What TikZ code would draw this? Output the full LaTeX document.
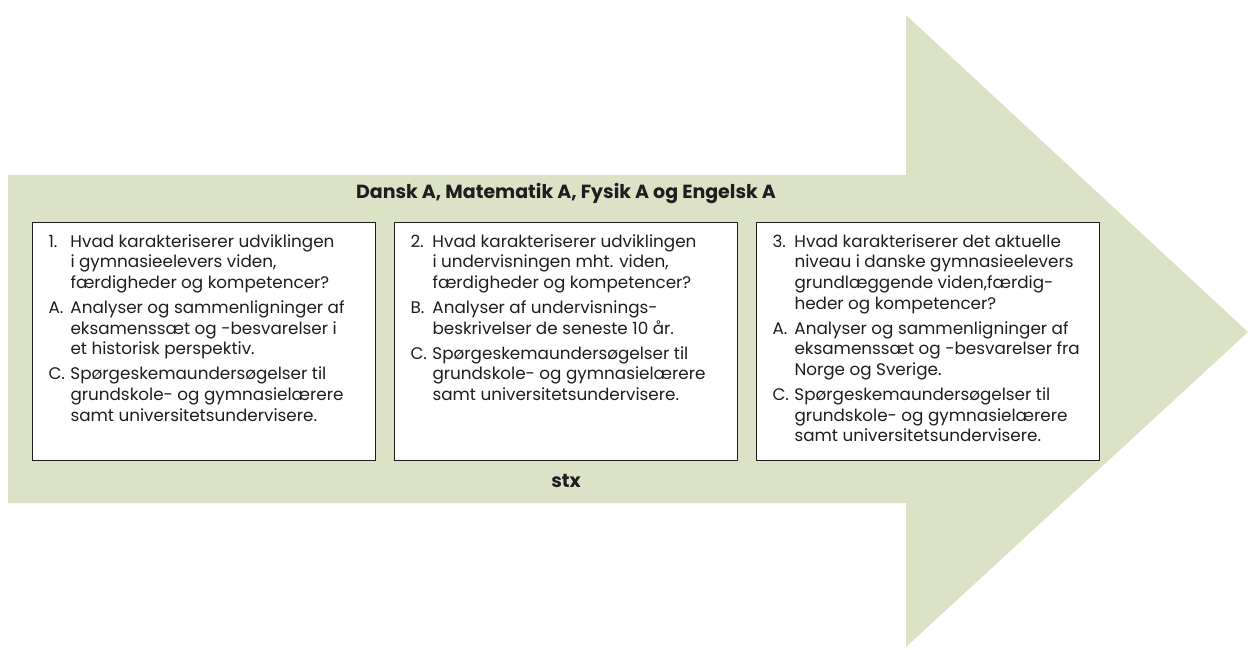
\documentclass[tikz,border=0pt]{standalone}
\usepackage{fontspec}
\setmainfont{Poppins}
\usepackage{xcolor}
\usetikzlibrary{positioning}
\definecolor{arrowfill}{HTML}{DCE2C6}
\definecolor{ink}{HTML}{1E1E1E}

% one numbered/lettered line with hanging indent
\newcommand{\qitem}[2]{\par\hangindent=22pt\hangafter=1\noindent\makebox[22pt][l]{#1}#2\par}
\newcommand{\boxtext}[1]{\begin{minipage}[t][214pt][t]{311pt}\setlength{\parskip}{4.5pt}#1\end{minipage}}

\begin{document}
\begin{tikzpicture}[x=1pt, y=-1pt,
    qbox/.style={draw=ink, fill=white, line width=1pt, anchor=north west,
      inner xsep=16pt, inner ysep=12pt, text=ink, font=\fontsize{16.8}{20.6}\selectfont},
    head/.style={text=ink, font=\fontsize{19}{22}\selectfont\bfseries}]
       \useasboundingbox (0, 0) rectangle (1248, 649);

       % big arrow
       \fill[arrowfill] (8, 175) -- (906, 175) -- (906, 15) -- (1248, 332)
            -- (906, 647) -- (906, 503) -- (8, 503) -- cycle;

       \node[head] (title) at (566, 193) {Dansk A, Matematik A, Fysik A og Engelsk A};

       \node[qbox] (q1) at (32, 222) {\boxtext{%
         \qitem{1.}{Hvad karakteriserer udviklingen\\ i gymnasieelevers viden,\\ færdigheder og kompetencer?}
         \qitem{A.}{Analyser og sammenligninger af\\ eksamenssæt og -besvarelser i\\ et historisk perspektiv.}
         \qitem{C.}{Spørgeskemaundersøgelser til\\ grundskole- og gymnasielærere\\ samt universitetsundervisere.}}};
       \node[qbox, right=18pt of q1] (q2) {\boxtext{%
         \qitem{2.}{Hvad karakteriserer udviklingen\\ i undervisningen mht. viden,\\ færdigheder og kompetencer?}
         \qitem{B.}{Analyser af undervisnings-\\ beskrivelser de seneste 10 år.}
         \qitem{C.}{Spørgeskemaundersøgelser til\\ grundskole- og gymnasielærere\\ samt universitetsundervisere.}}};
       \node[qbox, right=18pt of q2] (q3) {\boxtext{%
         \qitem{3.}{Hvad karakteriserer det aktuelle\\ niveau i danske gymnasieelevers\\ grundlæggende viden,færdig-\\ heder og kompetencer?}
         \qitem{A.}{Analyser og sammenligninger af\\ eksamenssæt og -besvarelser fra\\ Norge og Sverige.}
         \qitem{C.}{Spørgeskemaundersøgelser til\\ grundskole- og gymnasielærere\\ samt universitetsundervisere.}}};

       \node[head] (stx) at (566, 481) {stx};
    \end{tikzpicture}
\end{document}
